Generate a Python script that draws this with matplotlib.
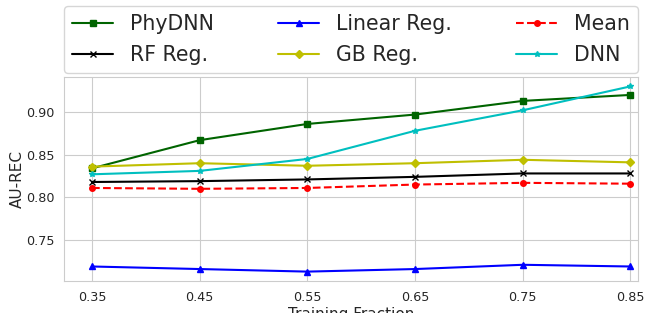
import matplotlib
matplotlib.use("Agg")
import matplotlib.pyplot as plt
import seaborn as sns

sns.set_style("whitegrid")
plt.rcParams['font.family'] = ['DejaVu Sans']

fractions = [0.35, 0.45, 0.55, 0.65, 0.75, 0.85]
phydnn = [0.834, 0.867, 0.886, 0.897, 0.913, 0.920]
rf_reg = [0.818, 0.819, 0.821, 0.824, 0.828, 0.828]
linear_reg = [0.719, 0.716, 0.713, 0.716, 0.721, 0.719]
gb_reg = [0.836, 0.840, 0.837, 0.840, 0.844, 0.841]
mean_vals = [0.811, 0.810, 0.811, 0.815, 0.817, 0.816]
dnn = [0.827, 0.831, 0.845, 0.878, 0.902, 0.930]

fig = plt.figure(figsize=(6.52, 3.13), dpi=100)
ax = fig.add_axes([64 / 652, 1 - 281 / 313, (638 - 64) / 652, (281 - 77) / 313])

lw = 1.5
ms = 4
ax.plot(fractions, phydnn, color='#006400', marker='s', lw=lw, ms=ms, label='PhyDNN')
ax.plot(fractions, rf_reg, color='k', marker='x', lw=lw, ms=ms, label='RF Reg.')
ax.plot(fractions, linear_reg, color='b', marker='^', lw=lw, ms=ms, label='Linear Reg.')
ax.plot(fractions, gb_reg, color='y', marker='D', lw=lw, ms=ms, label='GB Reg.')
ax.plot(fractions, mean_vals, color='r', marker='o', ls='--', lw=lw, ms=ms, label='Mean')
ax.plot(fractions, dnn, color='c', marker='*', lw=lw, ms=ms, label='DNN')

ax.set_xlim(0.324, 0.857)
ax.set_ylim(0.702, 0.941)
ax.set_xticks(fractions)
ax.set_yticks([0.75, 0.80, 0.85, 0.90])
ax.tick_params(labelsize=9.2)
ax.set_xlabel('Training Fraction', fontsize=11, labelpad=2)
ax.set_ylabel('AU-REC', fontsize=11, labelpad=1)

ax.legend(loc='lower left', bbox_to_anchor=(0, 1 + 4 / 204, 1, 0.2), mode='expand',
          ncol=3, fontsize=14.8, borderaxespad=0, frameon=True)

fig.savefig('out.png', dpi=100)
